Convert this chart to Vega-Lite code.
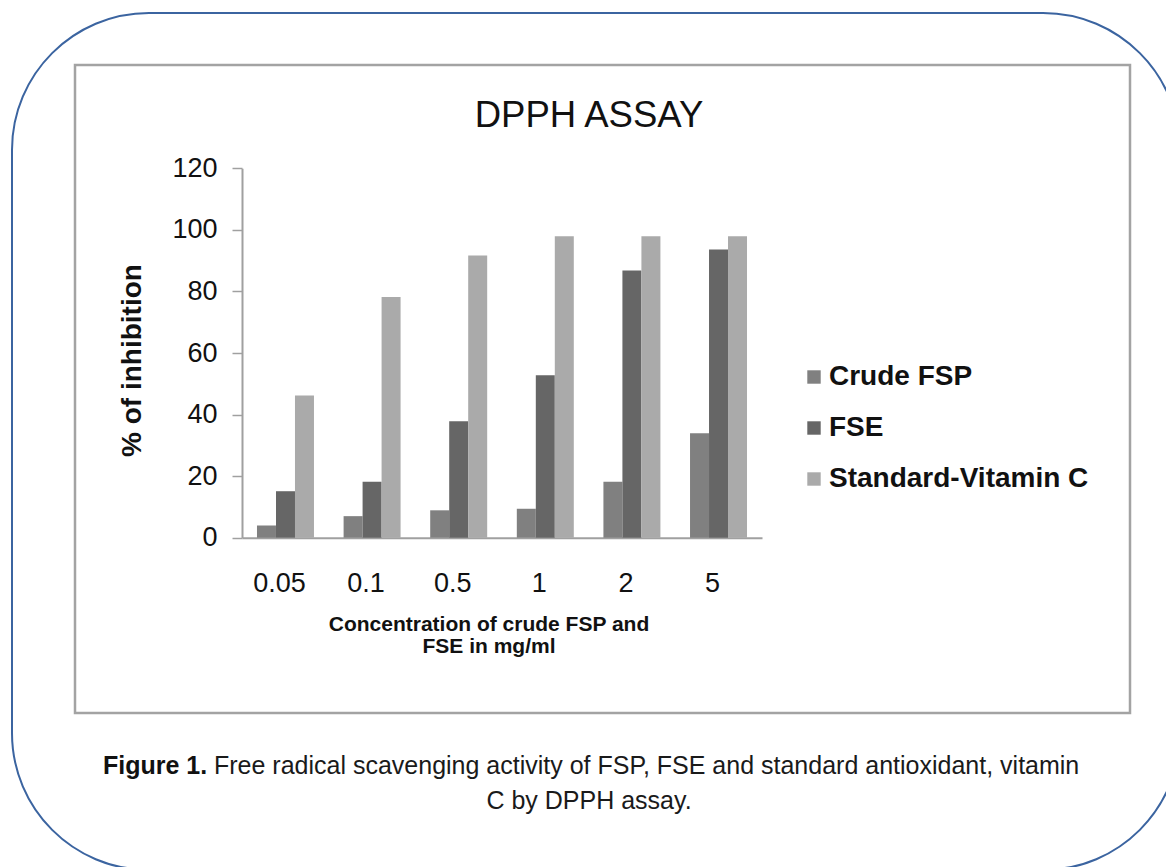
{
  "$schema": "https://vega.github.io/schema/vega-lite/v6.json",
  "autosize": "none",
  "padding": {"left": 12, "top": 13, "right": 0, "bottom": 0},
  "background": "white",
  "width": 1168,
  "height": 857,
  "config": {"view": {"stroke": "#3b64a0", "strokeWidth": 2, "cornerRadius": 137}},
  "title": {
    "text": "DPPH ASSAY",
    "subtitle": "C by DPPH assay.",
    "orient": "top",
    "anchor": "middle",
    "frame": "group",
    "offset": -801,
    "dx": -7,
    "font": "Liberation Sans",
    "fontSize": 36.5,
    "fontWeight": "normal",
    "color": "#111111",
    "subtitleFont": "Liberation Sans",
    "subtitleFontSize": 25,
    "subtitleFontWeight": "normal",
    "subtitleColor": "#1a1a1a",
    "subtitlePadding": 655
  },
  "resolve": {
    "scale": {"x": "independent", "y": "independent"},
    "axis": {"x": "independent", "y": "independent"}
  },
  "layer": [
    {
      "data": {"values": [{}]},
      "mark": {"type": "rect", "fillOpacity": 0, "stroke": "#a3a3a3", "strokeWidth": 2.5},
      "encoding": {
        "x": {
          "datum": 0,
          "type": "quantitative",
          "scale": {"domain": [0, 1], "range": [63, 1118], "nice": false, "zero": false},
          "axis": {
            "orient": "top",
            "offset": 0,
            "domain": false,
            "ticks": false,
            "labels": false,
            "grid": false,
            "title": "Free radical scavenging activity of FSP, FSE and standard antioxidant, vitamin",
            "titleFont": "Liberation Sans",
            "titleFontSize": 25,
            "titleFontWeight": "normal",
            "titleColor": "#1a1a1a",
            "titleAngle": 0,
            "titleAlign": "left",
            "titleBaseline": "alphabetic",
            "titleX": 201.5,
            "titleY": 760,
            "titleLimit": 2000
          }
        },
        "x2": {"datum": 1},
        "y": {
          "datum": 0,
          "type": "quantitative",
          "scale": {"domain": [0, 1], "range": [700, 52], "nice": false, "zero": false},
          "axis": {
            "orient": "right",
            "offset": 0,
            "domain": false,
            "ticks": false,
            "labels": false,
            "grid": false,
            "title": "Figure 1.",
            "titleFont": "Liberation Sans",
            "titleFontSize": 25,
            "titleFontWeight": "bold",
            "titleColor": "#111111",
            "titleAngle": 0,
            "titleAlign": "left",
            "titleBaseline": "alphabetic",
            "titleX": -1077.5,
            "titleY": 760,
            "titleLimit": 2000
          }
        },
        "y2": {"datum": 1}
      }
    },
    {
      "data": {
        "values": [
          {"conc": "0.05", "series": "Crude FSP", "value": 4.0},
          {"conc": "0.05", "series": "FSE", "value": 15.1},
          {"conc": "0.05", "series": "Standard-Vitamin C", "value": 46.2},
          {"conc": "0.1", "series": "Crude FSP", "value": 7.0},
          {"conc": "0.1", "series": "FSE", "value": 18.2},
          {"conc": "0.1", "series": "Standard-Vitamin C", "value": 78.2},
          {"conc": "0.5", "series": "Crude FSP", "value": 8.9},
          {"conc": "0.5", "series": "FSE", "value": 37.8},
          {"conc": "0.5", "series": "Standard-Vitamin C", "value": 91.7},
          {"conc": "1", "series": "Crude FSP", "value": 9.4},
          {"conc": "1", "series": "FSE", "value": 52.8},
          {"conc": "1", "series": "Standard-Vitamin C", "value": 97.9},
          {"conc": "2", "series": "Crude FSP", "value": 18.2},
          {"conc": "2", "series": "FSE", "value": 86.8},
          {"conc": "2", "series": "Standard-Vitamin C", "value": 97.9},
          {"conc": "5", "series": "Crude FSP", "value": 33.9},
          {"conc": "5", "series": "FSE", "value": 93.6},
          {"conc": "5", "series": "Standard-Vitamin C", "value": 97.9}
        ]
      },
      "mark": {"type": "bar"},
      "encoding": {
        "x": {
          "field": "conc",
          "type": "ordinal",
          "sort": ["0.05", "0.1", "0.5", "1", "2", "5"],
          "scale": {"range": [230, 750], "paddingInner": 0.342, "paddingOuter": 0.173},
          "axis": {
            "orient": "bottom",
            "offset": -332.3,
            "title": ["Concentration of crude FSP and", "FSE in mg/ml"],
            "titleFont": "Liberation Sans",
            "titleFontSize": 21,
            "titleFontWeight": "bold",
            "titleColor": "#111111",
            "titleLineHeight": 22,
            "titlePadding": 17,
            "titleX": 476.5,
            "labelFont": "Liberation Sans",
            "labelFontSize": 27,
            "labelColor": "#111111",
            "labelPadding": 33,
            "labelAngle": 0,
            "labelOffset": -6,
            "ticks": false,
            "domainColor": "#a0a0a0",
            "domainWidth": 2,
            "grid": false
          }
        },
        "xOffset": {
          "field": "series",
          "sort": ["Crude FSP", "FSE", "Standard-Vitamin C"],
          "scale": {"paddingInner": 0, "paddingOuter": 0}
        },
        "y": {
          "field": "value",
          "type": "quantitative",
          "scale": {"domain": [0, 120], "range": [524.7, 155.3], "nice": false, "zero": true},
          "axis": {
            "orient": "left",
            "offset": -230,
            "values": [0, 20, 40, 60, 80, 100, 120],
            "title": "% of inhibition",
            "titleFont": "Liberation Sans",
            "titleFontSize": 28,
            "titleFontWeight": "bold",
            "titleColor": "#111111",
            "titlePadding": 25,
            "titleY": 347,
            "labelFont": "Liberation Sans",
            "labelFontSize": 27,
            "labelColor": "#111111",
            "labelPadding": 15,
            "tickSize": 10,
            "tickColor": "#a0a0a0",
            "tickWidth": 1.5,
            "domainColor": "#a0a0a0",
            "domainWidth": 2,
            "grid": false
          }
        },
        "color": {
          "field": "series",
          "type": "nominal",
          "sort": ["Crude FSP", "FSE", "Standard-Vitamin C"],
          "scale": {"domain": ["Crude FSP", "FSE", "Standard-Vitamin C"], "range": ["#808080", "#666666", "#aaaaaa"]},
          "legend": {
            "orient": "none",
            "legendX": 788,
            "legendY": 350,
            "title": null,
            "padding": 0,
            "symbolType": "square",
            "symbolSize": 180,
            "symbolStrokeWidth": 0,
            "labelFont": "Liberation Sans",
            "labelFontSize": 28,
            "labelFontWeight": "bold",
            "labelColor": "#111111",
            "labelOffset": 1,
            "labelLimit": 400,
            "rowPadding": 23
          }
        }
      }
    }
  ]
}
